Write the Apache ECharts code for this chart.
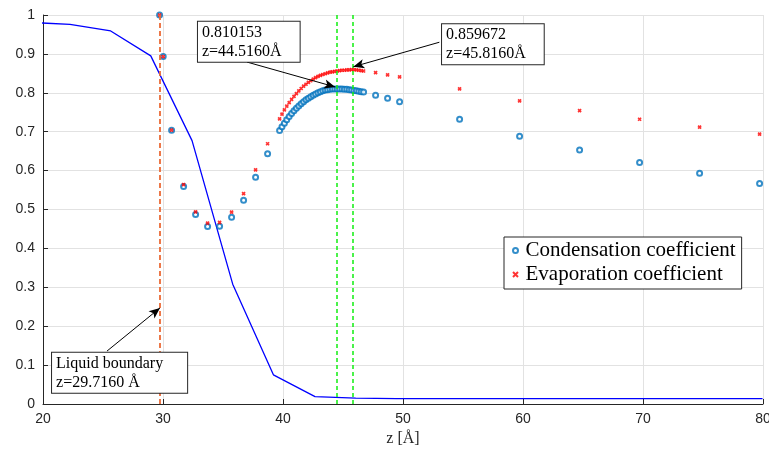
<!DOCTYPE html>
<html><head><meta charset="utf-8">
<script src="https://cdn.jsdelivr.net/npm/echarts@6/dist/echarts.min.js"></script>
<style>html,body{margin:0;padding:0;background:#fff;overflow:hidden}#c{width:769px;height:450px}</style>
</head><body><div id="c"></div>
<script>
// ---- data ----
const xTicks = [20, 30, 40, 50, 60, 70, 80];
const yTicks = [0, 0.1, 0.2, 0.3, 0.4, 0.5, 0.6, 0.7, 0.8, 0.9, 1];

const profZ = [18.86, 22.25, 25.64, 28.98, 32.42, 35.81, 39.20, 42.67, 46.06, 49.45, 52.84, 56.23, 59.62, 63.01, 66.40, 69.79, 73.18, 76.57, 79.96];
const profY = [0.981, 0.976, 0.959, 0.895, 0.677, 0.308, 0.075, 0.019, 0.015, 0.014, 0.014, 0.014, 0.014, 0.014, 0.014, 0.014, 0.014, 0.014, 0.014];

const zDisc = [29.716, 30.016, 30.716, 31.716, 32.716, 33.716, 34.716, 35.716, 36.716, 37.716, 38.716];
const condDisc = [1.000, 0.893, 0.704, 0.559, 0.487, 0.456, 0.457, 0.480, 0.524, 0.583, 0.643];
const evapDisc = [1.000, 0.893, 0.704, 0.564, 0.494, 0.465, 0.467, 0.493, 0.541, 0.602, 0.669];

const zDense = [39.716, 39.916, 40.116, 40.316, 40.516, 40.716, 40.916, 41.116, 41.316, 41.516, 41.716, 41.916,
  42.116, 42.316, 42.516, 42.716, 42.916, 43.116, 43.316, 43.516, 43.716, 43.916, 44.116, 44.316,
  44.516, 44.716, 44.916, 45.116, 45.316, 45.516, 45.716, 45.916, 46.116, 46.316, 46.516, 46.716];
const condDense = [0.703, 0.713, 0.722, 0.731, 0.739, 0.747, 0.754, 0.760, 0.766, 0.772, 0.777, 0.782,
  0.786, 0.790, 0.794, 0.797, 0.800, 0.803, 0.805, 0.807, 0.808, 0.809, 0.810, 0.810,
  0.810, 0.810, 0.810, 0.809, 0.809, 0.808, 0.807, 0.806, 0.805, 0.804, 0.803, 0.802];
const evapDense = [0.733, 0.745, 0.756, 0.766, 0.775, 0.783, 0.791, 0.798, 0.805, 0.811, 0.817, 0.822,
  0.827, 0.831, 0.835, 0.839, 0.842, 0.845, 0.847, 0.849, 0.851, 0.853, 0.854, 0.855,
  0.856, 0.857, 0.858, 0.858, 0.859, 0.859, 0.8597, 0.8597, 0.859, 0.858, 0.857, 0.856];

const zTail = [47.716, 48.716, 49.716, 54.716, 59.716, 64.716, 69.716, 74.716, 79.716];
const condTail = [0.794, 0.786, 0.777, 0.732, 0.688, 0.653, 0.621, 0.593, 0.567];
const evapTail = [0.852, 0.846, 0.841, 0.810, 0.779, 0.754, 0.732, 0.712, 0.694];

const liquidZ = 29.716;
const peakCondZ = 44.516, peakCondV = 0.810153;
const peakEvapZ = 45.816, peakEvapV = 0.859672;

const seriesNames = ['Condensation coefficient', 'Evaporation coefficient'];
const annoTexts = ['0.810153\nz=44.5160Å', '0.859672\nz=45.8160Å', 'Liquid boundary\nz=29.7160 Å'];
const xName = 'z [Å]';

// ---- build ----
const zip = (a, b) => a.map((v, i) => [v, b[i]]);
const condData = zip(zDisc, condDisc).concat(zip(zDense, condDense), zip(zTail, condTail));
const evapData = zip(zDisc, evapDisc).concat(zip(zDense, evapDense), zip(zTail, evapTail));

const axisColor = '#262626';
const serif = '"Liberation Serif", "DejaVu Serif", serif';
const sans = '"Liberation Sans", Arial, sans-serif';

function arrow(from, to) {
  return [{ coord: from, lineStyle: { color: '#000', width: 1, type: 'solid' } }, { coord: to }];
}

const chart = echarts.init(document.getElementById('c'), null, { renderer: 'canvas', width: 769, height: 450 });
const option = {
  animation: false,
  backgroundColor: '#fff',
  grid: { left: 43, top: 15, width: 720, height: 389, containLabel: false, outerBoundsMode: 'none' },
  xAxis: {
    type: 'value', min: xTicks[0], max: xTicks[xTicks.length - 1], interval: 10,
    name: xName, nameLocation: 'middle', nameGap: 27,
    nameTextStyle: { fontFamily: serif, fontSize: 16, color: axisColor },
    axisLine: { show: true, onZero: false, lineStyle: { color: axisColor, width: 1 } },
    axisTick: { show: true, inside: true, length: 5, lineStyle: { color: axisColor } },
    axisLabel: { fontFamily: sans, fontSize: 14, color: axisColor, margin: 8 },
    splitLine: { show: true, lineStyle: { color: '#e2e2e2', width: 1 } }
  },
  yAxis: {
    type: 'value', min: yTicks[0], max: yTicks[yTicks.length - 1], interval: 0.1,
    axisLine: { show: true, onZero: false, lineStyle: { color: axisColor, width: 1 } },
    axisTick: { show: true, inside: true, length: 5, lineStyle: { color: axisColor } },
    axisLabel: { fontFamily: sans, fontSize: 14, color: axisColor, margin: 8,
      formatter: v => String(Math.round(v * 10) / 10) },
    splitLine: { show: true, lineStyle: { color: '#e2e2e2', width: 1 } }
  },
  legend: {
    data: seriesNames,
    orient: 'vertical', left: 504, top: 237,
    backgroundColor: '#fff', borderColor: axisColor, borderWidth: 1,
    padding: [3, 6, 4, 8], itemGap: 3, itemWidth: 10, itemHeight: 5,
    textStyle: { fontFamily: serif, fontSize: 21, color: '#000' }
  },
  series: [
    {
      name: 'profile', type: 'line', data: zip(profZ, profY), showSymbol: false, symbol: 'none',
      lineStyle: { color: '#0000ff', width: 1.3 }, clip: true, silent: true, z: 1,
      markLine: {
        silent: true, symbol: ['none', 'none'], label: { show: false },
        data: [
          { xAxis: liquidZ, lineStyle: { color: '#EB6A36', width: 1.8, type: [5, 3] } },
          { xAxis: peakCondZ, lineStyle: { color: '#11ee11', width: 1.5, type: [4, 3] } },
          { xAxis: peakEvapZ, lineStyle: { color: '#11ee11', width: 1.5, type: [4, 3] } }
        ]
      }
    },
    {
      name: seriesNames[0], type: 'scatter', data: condData,
      symbol: 'emptyCircle', symbolSize: 5,
      itemStyle: { color: '#0072BD', borderColor: '#0072BD', borderWidth: 1.3 }, z: 3
    },
    {
      name: seriesNames[1], type: 'scatter', data: evapData,
      symbol: 'path://M0,0L10,10M10,0L0,10', symbolSize: 3,
      itemStyle: { color: '#ff0000', borderColor: '#ff0000', borderWidth: 1.7 }, z: 4
    },
    {
      name: 'arrows', type: 'line', data: [], silent: true, z: 5,
      markLine: {
        silent: true, symbol: ['none', 'arrow'], symbolSize: [7, 11], label: { show: false },
        data: [
          arrow([37.0, 0.879], [44.35, 0.815]),
          arrow([53.03, 0.930], [45.86, 0.867]),
          arrow([25.33, 0.136], [29.75, 0.247])
        ]
      }
    }
  ]
};
chart.setOption(option);

// annotation boxes, placed through the chart's own scales
const boxAnchors = [[32.83, 0.985], [53.17, 0.979], [20.67, 0.134]];
const boxPadRight = [18, 18, 24];
const graphics = boxAnchors.map((a, i) => {
  const p = chart.convertToPixel({ gridIndex: 0 }, a);
  return {
    type: 'text', left: p[0], top: p[1], z: 100,
    style: {
      text: annoTexts[i], font: '16px ' + serif, fill: '#000', lineHeight: 19,
      backgroundColor: '#fff', borderColor: axisColor, borderWidth: 1, padding: [1, boxPadRight[i], 1, 4]
    }
  };
});
chart.setOption({ graphic: graphics });
</script></body></html>
